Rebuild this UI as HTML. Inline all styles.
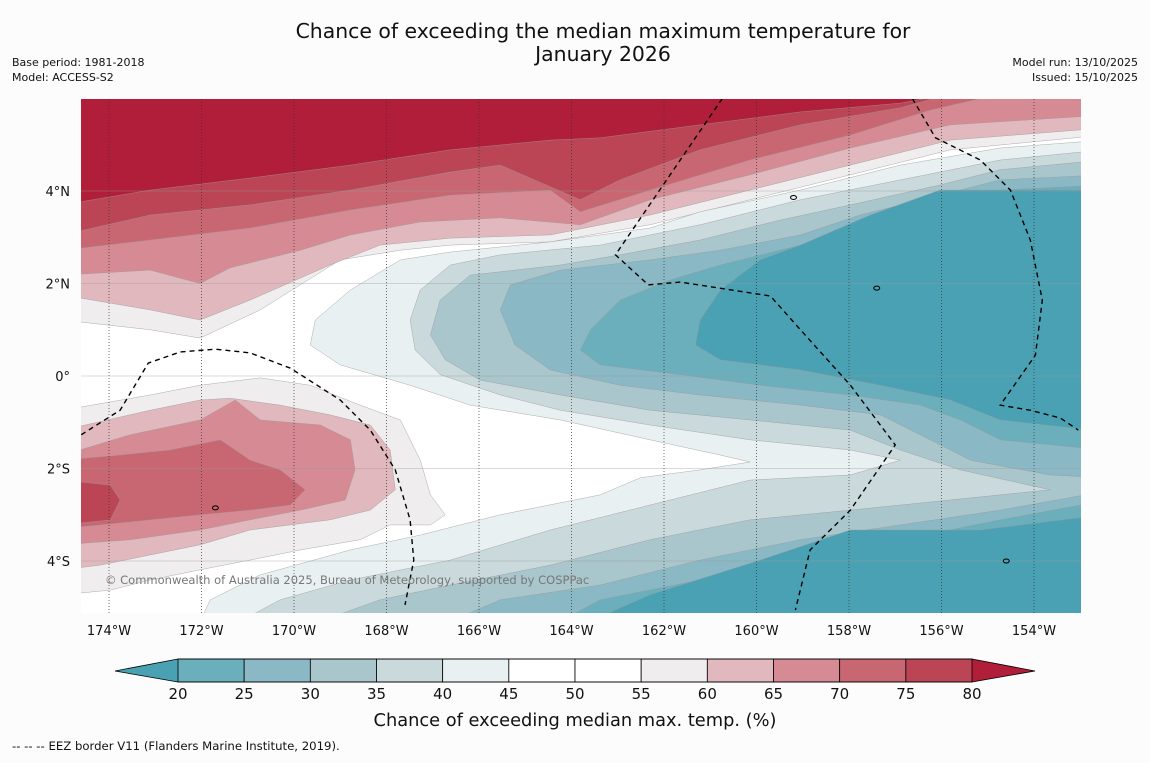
<!DOCTYPE html>
<html><head><meta charset="utf-8"><style>
body{margin:0;background:#fcfcfc;}
svg text{font-family:"DejaVu Sans","Liberation Sans",sans-serif;}
</style></head><body>
<svg id="chart" width="1150" height="758" xmlns="http://www.w3.org/2000/svg">
<rect width="1150" height="758" fill="#fcfcfc"/>
<text x="603" y="38" text-anchor="middle" font-size="20.4" fill="#111">Chance of exceeding the median maximum temperature for</text>
<text x="603" y="61" text-anchor="middle" font-size="20.4" fill="#111">January 2026</text>
<text x="12" y="66" font-size="11" fill="#111">Base period: 1981-2018</text>
<text x="12" y="81" font-size="11" fill="#111">Model: ACCESS-S2</text>
<text x="1138" y="66" font-size="11" fill="#111" text-anchor="end">Model run: 13/10/2025</text>
<text x="1138" y="81" font-size="11" fill="#111" text-anchor="end">Issued: 15/10/2025</text>
<defs><clipPath id="pc"><rect x="81" y="99" width="1000" height="514"/></clipPath></defs>
<g id="map" clip-path="url(#pc)">
<rect x="81" y="99" width="1000" height="514" fill="#ffffff"/>
</g>
<g id="axes"></g>
<g id="cbar"></g>
<text x="575" y="726" text-anchor="middle" font-size="17.8" fill="#111">Chance of exceeding median max. temp. (%)</text>
<text x="12" y="750" font-size="11.7" fill="#111">--  --  -- EEZ border V11 (Flanders Marine Institute, 2019).</text>
</svg>
<script>
const lonTicks=[-174,-172,-170,-168,-166,-164,-162,-160,-158,-156,-154];
const latTicks=[4,2,0,-2,-4];
const cbLevels=[20,25,30,35,40,45,50,55,60,65,70,75,80];
const cbColors=["#6aafbb","#8ab8c5","#a8c6cb","#c9d9dc","#e9f0f1","#ffffff","#ffffff","#efedee","#e0b8bd","#d68a94","#c86772","#bb4555"];
const lowColor="#4aa1b3", highColor="#b01e3a";
const r55=[[-175,1.21],[-173.11,1.0],[-172.03,0.82],[-170.73,1.43],[-169.0,2.51],[-167.7,2.72],[-166.62,2.83],[-164.46,2.9],[-162.3,3.27],[-160.14,3.81],[-157.97,4.35],[-155.81,4.89],[-152.5,5.21]];
const r60=[[-175,1.75],[-173.11,1.43],[-172.03,1.21],[-170.95,1.64],[-169.22,2.4],[-168.14,2.83],[-166.62,2.98],[-164.46,3.05],[-162.3,3.48],[-160.14,4.02],[-157.97,4.56],[-155.81,5.1],[-152.5,5.36]];
const r65=[[-175,2.18],[-173.11,2.29],[-172.03,2.0],[-171.38,2.34],[-169.86,2.72],[-168.78,3.05],[-167.27,3.33],[-165.54,3.42],[-163.81,3.27],[-162.3,3.81],[-160.14,4.35],[-157.97,4.93],[-155.81,5.43],[-152.5,5.64]];
const r70=[[-175,2.72],[-173.11,2.94],[-170.95,3.2],[-168.78,3.59],[-166.62,3.91],[-164.46,4.02],[-163.81,3.55],[-162.3,4.02],[-160.14,4.67],[-157.97,5.21],[-156.24,5.75],[-154.73,6.1]];
const r75=[[-175,3.05],[-173.11,3.48],[-170.95,3.7],[-168.78,4.02],[-166.62,4.41],[-165.54,4.56],[-163.81,3.81],[-162.95,4.24],[-161.22,4.89],[-159.05,5.43],[-156.89,5.8],[-155.81,6.1]];
const r80=[[-175,3.7],[-173.11,4.02],[-170.95,4.28],[-168.78,4.56],[-166.62,4.89],[-164.46,5.1],[-163.38,5.15],[-161.22,5.43],[-159.05,5.71],[-156.89,5.9],[-155.81,6.1]];
const b40=[[-152.5,5.1],[-154.73,4.93],[-156.89,4.56],[-159.05,4.02],[-161.22,3.55],[-162.3,3.2],[-164.46,2.9],[-166.62,2.68],[-167.7,2.51],[-168.78,1.86],[-169.54,1.21],[-169.65,0.67],[-169.0,0.24],[-167.49,-0.2],[-166.19,-0.63],[-164.24,-0.95],[-162.3,-1.38],[-160.78,-1.71],[-160.14,-1.86],[-161.22,-2.03],[-162.51,-2.2],[-163.38,-2.57],[-165.54,-3.0],[-167.27,-3.44],[-168.78,-3.76],[-170.73,-4.3],[-171.81,-4.84],[-172.03,-5.3],[-152.5,-5.3]];
const b35=[[-152.5,4.89],[-154.73,4.67],[-156.89,4.24],[-159.05,3.81],[-161.22,3.27],[-163.38,2.83],[-165.54,2.62],[-166.62,2.4],[-167.27,1.86],[-167.49,1.21],[-167.38,0.56],[-166.84,0.03],[-165.54,-0.41],[-164.24,-0.74],[-162.3,-1.06],[-160.14,-1.38],[-157.97,-1.6],[-156.89,-1.82],[-157.97,-2.14],[-160.14,-2.25],[-162.3,-2.79],[-164.46,-3.33],[-166.62,-3.98],[-168.78,-4.41],[-170.3,-4.84],[-171.16,-5.3],[-152.5,-5.3]];
const b30=[[-152.5,4.67],[-154.73,4.46],[-156.03,4.13],[-157.97,3.7],[-159.49,3.37],[-161.22,2.94],[-162.95,2.62],[-164.24,2.4],[-166.19,2.18],[-166.84,1.64],[-167.05,0.89],[-166.73,0.35],[-165.97,-0.09],[-164.24,-0.41],[-162.3,-0.74],[-160.14,-0.95],[-157.97,-1.17],[-156.89,-1.6],[-155.59,-2.03],[-153.65,-2.46],[-155.81,-2.68],[-157.97,-2.9],[-160.14,-3.11],[-162.3,-3.54],[-164.46,-4.09],[-166.62,-4.52],[-168.14,-4.84],[-169.43,-5.3],[-152.5,-5.3]];
const b25a=[[-152.5,4.35],[-154.73,4.24],[-156.03,3.91],[-157.76,3.48],[-159.05,3.05],[-160.78,2.72],[-162.3,2.51],[-164.24,2.29],[-165.32,1.97],[-165.54,1.43],[-165.22,0.67],[-164.46,0.13],[-162.95,-0.2],[-161.22,-0.41],[-159.05,-0.63],[-157.32,-0.84],[-156.24,-1.38],[-155.38,-1.82],[-153.65,-2.14],[-152.5,-2.2]];
const b25b=[[-152.5,-2.5],[-154.73,-2.9],[-156.89,-3.22],[-159.05,-3.54],[-161.22,-3.98],[-163.38,-4.52],[-165.54,-4.84],[-166.62,-5.3],[-152.5,-5.3]];
const b20a=[[-152.5,4.13],[-154.73,4.02],[-156.03,3.81],[-157.54,3.37],[-159.05,2.83],[-160.78,2.4],[-161.86,2.08],[-162.95,1.64],[-163.59,1.0],[-163.81,0.56],[-163.38,0.24],[-161.65,0.03],[-159.92,-0.2],[-157.97,-0.41],[-156.46,-0.63],[-155.59,-0.95],[-154.73,-1.38],[-152.5,-1.6]];
const b20b=[[-152.5,-2.7],[-154.73,-3.11],[-156.89,-3.54],[-159.05,-3.98],[-161.22,-4.41],[-163.38,-4.84],[-164.24,-5.3],[-152.5,-5.3]];
const bloA=[[-152.5,4.02],[-156.03,4.02],[-157.54,3.48],[-159.05,2.83],[-159.92,2.51],[-160.78,1.86],[-161.22,1.21],[-161.32,0.67],[-160.78,0.35],[-159.05,0.13],[-157.32,-0.2],[-155.81,-0.52],[-154.73,-0.95],[-152.5,-1.2]];
const bloB=[[-152.5,-3.0],[-155.16,-3.33],[-157.97,-3.33],[-159.92,-3.98],[-162.3,-4.73],[-163.59,-5.3],[-152.5,-5.3]];
const l55=[[-175,-0.74],[-173.11,-0.41],[-172.03,-0.2],[-170.73,-0.04],[-169.65,-0.2],[-168.57,-0.63],[-167.7,-0.95],[-167.27,-1.82],[-167.05,-2.57],[-166.73,-3.0],[-167.05,-3.22],[-167.92,-3.22],[-168.57,-3.54],[-169.86,-3.76],[-170.95,-3.98],[-172.03,-4.19],[-173.11,-4.41],[-173.97,-4.63],[-175,-4.73]];
const l60=[[-175,-1.17],[-173.11,-0.74],[-172.03,-0.52],[-171.38,-0.48],[-170.3,-0.63],[-169.22,-0.84],[-168.35,-1.06],[-167.92,-1.6],[-167.81,-2.46],[-168.35,-2.9],[-169.22,-3.11],[-170.95,-3.33],[-172.03,-3.65],[-173.11,-3.87],[-174.19,-4.09],[-175,-4.19]];
const l65=[[-175,-1.71],[-173.54,-1.27],[-172.03,-0.95],[-171.27,-0.52],[-170.73,-0.95],[-169.43,-1.06],[-168.78,-1.38],[-168.68,-2.03],[-168.89,-2.68],[-169.86,-2.9],[-170.95,-3.11],[-172.03,-3.33],[-173.54,-3.54],[-175,-3.65]];
const l70=[[-175,-1.82],[-173.76,-1.71],[-172.68,-1.6],[-171.59,-1.38],[-170.95,-1.82],[-170.3,-2.03],[-169.76,-2.46],[-170.08,-2.79],[-170.95,-2.9],[-172.03,-3.0],[-173.11,-3.11],[-174.19,-3.22],[-175,-3.3]];
const l75=[[-175,-2.25],[-173.97,-2.36],[-173.76,-2.68],[-173.97,-3.11],[-175,-3.22]];
const eezA=[[-160.74,6.0],[-163.05,2.62],[-162.34,1.97],[-161.65,2.03],[-159.7,1.73],[-159.05,1.0],[-157.97,-0.2],[-157.0,-1.49],[-157.97,-2.9],[-158.84,-3.76],[-159.16,-5.06]];
const eezB=[[-156.63,6.0],[-156.13,5.15],[-155.16,4.67],[-154.51,4.02],[-154.08,2.94],[-153.82,1.64],[-153.97,0.45],[-154.73,-0.63],[-154.08,-0.74],[-153.43,-0.91],[-153.04,-1.17]];
const eezC=[[-174.6,-1.27],[-173.76,-0.74],[-173.15,0.28],[-172.46,0.52],[-171.7,0.58],[-170.95,0.5],[-170.08,0.17],[-169.0,-0.52],[-168.35,-1.17],[-167.81,-2.03],[-167.49,-3.11],[-167.41,-3.98],[-167.6,-4.95]];
const islands=[[-159.2,3.86],[-157.4,1.9],[-171.7,-2.85],[-154.6,-4.0]];

const NS="http://www.w3.org/2000/svg";
const X=lon=>109+(lon+174)*46.25;
const Y=lat=>376-lat*46.25;
const C=v=>178+(v-20)*(794/60);
function mk(tag,attrs,parent){const e=document.createElementNS(NS,tag);for(const k in attrs)e.setAttribute(k,attrs[k]);parent.appendChild(e);return e;}
const map=document.getElementById('map');
function ptsTop(arr){return arr.map(p=>X(p[0])+','+Y(p[1])).join(' ');}
function topPoly(arr,color,name){
  const pts=ptsTop(arr)+' '+X(-152.5)+','+Y(6.3)+' '+X(-175)+','+Y(6.3);
  const e=mk('polygon',{points:pts,fill:color,stroke:'#999',"stroke-width":0.4},map);
  
  
}
function closedPoly(arr,color,name){
  const e=mk('polygon',{points:ptsTop(arr),fill:color,stroke:'#999',"stroke-width":0.4},map);
  
  
}
topPoly(r55,cbColors[7],'region-55-60-north');
topPoly(r60,cbColors[8],'region-60-65-north');
topPoly(r65,cbColors[9],'region-65-70-north');
topPoly(r70,cbColors[10],'region-70-75-north');
topPoly(r75,cbColors[11],'region-75-80-north');
topPoly(r80,highColor,'region-above-80-north');
closedPoly(b40,cbColors[4],'region-35-40');
closedPoly(b35,cbColors[3],'region-30-35');
closedPoly(b30,cbColors[2],'region-25-30');
closedPoly(b25a,cbColors[1],'region-20-25-north');
closedPoly(b25b,cbColors[1],'region-20-25-south');
closedPoly(b20a,cbColors[0],'region-below-20-a');
closedPoly(b20b,cbColors[0],'region-below-20-b');
closedPoly(bloA,lowColor,'region-lowest-north');
closedPoly(bloB,lowColor,'region-lowest-south');
closedPoly(l55,cbColors[7],'region-55-60-west');
closedPoly(l60,cbColors[8],'region-60-65-west');
closedPoly(l65,cbColors[9],'region-65-70-west');
closedPoly(l70,cbColors[10],'region-70-75-west');
closedPoly(l75,cbColors[11],'region-75-80-west');
lonTicks.forEach(l=>{
  const e=mk('line',{x1:X(l),x2:X(l),y1:99,y2:613,stroke:'#333',"stroke-width":0.7,"stroke-dasharray":'1,2'},map);
  
  
});
latTicks.forEach(l=>{
  const e=mk('line',{x1:81,x2:1081,y1:Y(l),y2:Y(l),stroke:'#999',"stroke-width":0.6,opacity:0.7},map);
  
  
});
[[eezA,'eez-border-kiribati'],[eezB,'eez-border-east'],[eezC,'eez-border-west']].forEach(([a,n])=>{
  const e=mk('polyline',{points:ptsTop(a),fill:'none',stroke:'#000',"stroke-width":1.4,"stroke-dasharray":'5,4'},map);
  
  
});
islands.forEach(p=>{
  const e=mk('ellipse',{cx:X(p[0]),cy:Y(p[1]),rx:3,ry:2,fill:'none',stroke:'#000',"stroke-width":1},map);
  
  
});
const cp=mk('text',{x:105,y:584,"font-size":11.5,fill:'#777'},map);
cp.textContent='© Commonwealth of Australia 2025, Bureau of Meteorology, supported by COSPPac';


const ax=document.getElementById('axes');
lonTicks.forEach(l=>{
  const t=mk('text',{x:X(l),y:635,"text-anchor":'middle',"font-size":13,fill:'#111'},ax);
  t.textContent=Math.abs(l)+'°W';
  
  
});
latTicks.forEach(l=>{
  const t=mk('text',{x:70,y:Y(l)+5,"text-anchor":'end',"font-size":13,fill:'#111'},ax);
  t.textContent=l===0?'0°':Math.abs(l)+'°'+(l>0?'N':'S');
  
  
});
const cb=document.getElementById('cbar');
const lo=mk('polygon',{points:`115,671 ${C(20)},659 ${C(20)},682`,fill:lowColor},cb);


const hi=mk('polygon',{points:`${C(80)},659 1035,671 ${C(80)},682`,fill:highColor},cb);


cbColors.forEach((c,i)=>{
  const r=mk('rect',{x:C(cbLevels[i]),y:659,width:C(cbLevels[i+1])-C(cbLevels[i]),height:23,fill:c,stroke:'#000',"stroke-width":0.8},cb);
  
  
});
mk('polyline',{points:`${C(20)},659 115,671 ${C(20)},682 ${C(80)},682 1035,671 ${C(80)},659 ${C(20)},659`,fill:'none',stroke:'#000',"stroke-width":0.8},cb);
cbLevels.forEach(v=>{
  const t=mk('text',{x:C(v),y:699,"text-anchor":'middle',"font-size":15,fill:'#111'},cb);
  t.textContent=v;
  
  
});
</script>
</body></html>
